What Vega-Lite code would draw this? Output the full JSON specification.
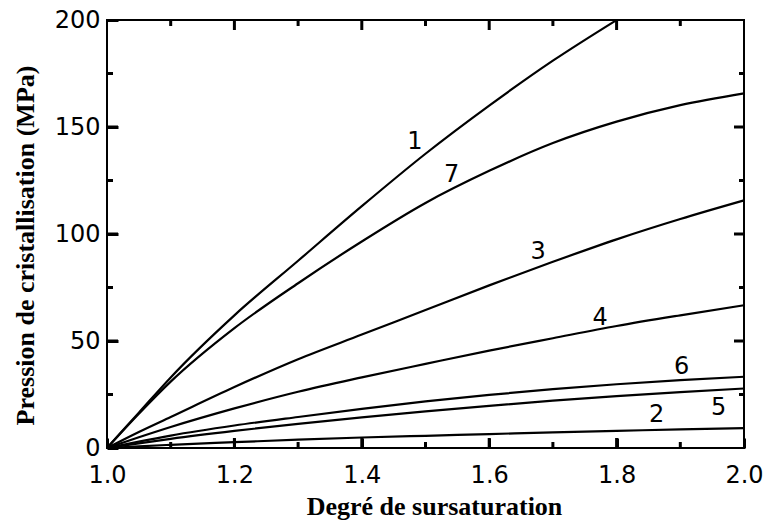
{
  "$schema": "https://vega.github.io/schema/vega-lite/v6.json",
  "width": 637,
  "height": 428,
  "autosize": "none",
  "padding": {"left": 107, "top": 20, "right": 21, "bottom": 75},
  "background": "white",
  "config": {"view": {"stroke": "black", "strokeWidth": 2}, "axis": {"gridOpacity": 0}},
  "datasets": {
    "labels": [
      {"label": "1", "S": 1.4835, "P": 143.1},
      {"label": "7", "S": 1.541, "P": 127.6},
      {"label": "3", "S": 1.677, "P": 91.7},
      {"label": "4", "S": 1.774, "P": 60.6},
      {"label": "6", "S": 1.902, "P": 38},
      {"label": "2", "S": 1.863, "P": 15.4},
      {"label": "5", "S": 1.96, "P": 18.5}
    ],
    "xticks": [
      {"v": 1.1, "kind": "minor"}, {"v": 1.2, "kind": "major"}, {"v": 1.3, "kind": "minor"}, {"v": 1.4, "kind": "major"}, {"v": 1.5, "kind": "minor"}, {"v": 1.6, "kind": "major"}, {"v": 1.7, "kind": "minor"}, {"v": 1.8, "kind": "major"}, {"v": 1.9, "kind": "minor"}
    ],
    "yticks": [
      {"v": 25, "kind": "minor"}, {"v": 50, "kind": "major"}, {"v": 75, "kind": "minor"}, {"v": 100, "kind": "major"}, {"v": 125, "kind": "minor"}, {"v": 150, "kind": "major"}, {"v": 175, "kind": "minor"}
    ]
  },
  "layer": [
    {
      "data": {"values": [
        {"curve": "1", "S": 1.0, "P": 0}, {"curve": "1", "S": 1.05, "P": 16.5}, {"curve": "1", "S": 1.1, "P": 33}, {"curve": "1", "S": 1.2, "P": 62}, {"curve": "1", "S": 1.3, "P": 87.5}, {"curve": "1", "S": 1.4, "P": 113}, {"curve": "1", "S": 1.5, "P": 137.5}, {"curve": "1", "S": 1.6, "P": 160}, {"curve": "1", "S": 1.7, "P": 181}, {"curve": "1", "S": 1.8, "P": 200},
        {"curve": "7", "S": 1.0, "P": 0}, {"curve": "7", "S": 1.05, "P": 16}, {"curve": "7", "S": 1.1, "P": 31}, {"curve": "7", "S": 1.2, "P": 56}, {"curve": "7", "S": 1.3, "P": 77}, {"curve": "7", "S": 1.4, "P": 96.5}, {"curve": "7", "S": 1.5, "P": 114.5}, {"curve": "7", "S": 1.6, "P": 129.5}, {"curve": "7", "S": 1.7, "P": 142.5}, {"curve": "7", "S": 1.8, "P": 152.5}, {"curve": "7", "S": 1.9, "P": 160.2}, {"curve": "7", "S": 2.0, "P": 165.7},
        {"curve": "3", "S": 1.0, "P": 0}, {"curve": "3", "S": 1.05, "P": 7.5}, {"curve": "3", "S": 1.1, "P": 14.5}, {"curve": "3", "S": 1.2, "P": 28.5}, {"curve": "3", "S": 1.3, "P": 41.5}, {"curve": "3", "S": 1.4, "P": 53}, {"curve": "3", "S": 1.5, "P": 64.5}, {"curve": "3", "S": 1.6, "P": 76}, {"curve": "3", "S": 1.7, "P": 87}, {"curve": "3", "S": 1.8, "P": 97.5}, {"curve": "3", "S": 1.9, "P": 107}, {"curve": "3", "S": 2.0, "P": 115.7},
        {"curve": "4", "S": 1.0, "P": 0}, {"curve": "4", "S": 1.05, "P": 5}, {"curve": "4", "S": 1.1, "P": 9.8}, {"curve": "4", "S": 1.2, "P": 18.5}, {"curve": "4", "S": 1.3, "P": 26.3}, {"curve": "4", "S": 1.4, "P": 33}, {"curve": "4", "S": 1.5, "P": 39.3}, {"curve": "4", "S": 1.6, "P": 45.5}, {"curve": "4", "S": 1.7, "P": 51.3}, {"curve": "4", "S": 1.8, "P": 57}, {"curve": "4", "S": 1.9, "P": 62}, {"curve": "4", "S": 2.0, "P": 66.7},
        {"curve": "6", "S": 1.0, "P": 0}, {"curve": "6", "S": 1.05, "P": 3}, {"curve": "6", "S": 1.1, "P": 5.8}, {"curve": "6", "S": 1.2, "P": 10.5}, {"curve": "6", "S": 1.3, "P": 14.5}, {"curve": "6", "S": 1.4, "P": 18.3}, {"curve": "6", "S": 1.5, "P": 21.8}, {"curve": "6", "S": 1.6, "P": 24.8}, {"curve": "6", "S": 1.7, "P": 27.5}, {"curve": "6", "S": 1.8, "P": 29.8}, {"curve": "6", "S": 1.9, "P": 31.7}, {"curve": "6", "S": 2.0, "P": 33.3},
        {"curve": "5", "S": 1.0, "P": 0}, {"curve": "5", "S": 1.05, "P": 2.2}, {"curve": "5", "S": 1.1, "P": 4.3}, {"curve": "5", "S": 1.2, "P": 8}, {"curve": "5", "S": 1.3, "P": 11.3}, {"curve": "5", "S": 1.4, "P": 14.3}, {"curve": "5", "S": 1.5, "P": 17.1}, {"curve": "5", "S": 1.6, "P": 19.7}, {"curve": "5", "S": 1.7, "P": 22.1}, {"curve": "5", "S": 1.8, "P": 24.2}, {"curve": "5", "S": 1.9, "P": 26.1}, {"curve": "5", "S": 2.0, "P": 27.8},
        {"curve": "2", "S": 1.0, "P": 0}, {"curve": "2", "S": 1.05, "P": 0.8}, {"curve": "2", "S": 1.1, "P": 1.5}, {"curve": "2", "S": 1.2, "P": 2.7}, {"curve": "2", "S": 1.3, "P": 3.9}, {"curve": "2", "S": 1.4, "P": 4.9}, {"curve": "2", "S": 1.5, "P": 5.7}, {"curve": "2", "S": 1.6, "P": 6.5}, {"curve": "2", "S": 1.7, "P": 7.3}, {"curve": "2", "S": 1.8, "P": 8}, {"curve": "2", "S": 1.9, "P": 8.7}, {"curve": "2", "S": 2.0, "P": 9.3}
      ]},
      "mark": {"type": "line", "color": "black", "strokeWidth": 2.2, "interpolate": "monotone"},
      "encoding": {
        "x": {
          "field": "S", "type": "quantitative",
          "scale": {"domain": [1, 2], "nice": false, "zero": false},
          "axis": {
            "orient": "bottom", "offset": -10, "domain": false,
            "values": [1, 1.2, 1.4, 1.6, 1.8, 2],
            "format": ".1f",
            "tickSize": 10, "tickColor": "#000000", "tickWidth": 3,
            "labelPadding": 15.5,
            "labelFont": "DejaVu Sans", "labelFontSize": 24, "labelColor": "black",
            "labelFlush": false, "labelOverlap": false,
            "title": "Degré de sursaturation",
            "titleFont": "Liberation Serif", "titleFontWeight": "bold", "titleFontSize": 26, "titleColor": "black",
            "titleX": 327, "titleY": 76, "titleBaseline": "alphabetic", "titleAlign": "center"
          }
        },
        "y": {
          "field": "P", "type": "quantitative",
          "scale": {"domain": [0, 200], "nice": false},
          "axis": {
            "orient": "left", "offset": -11, "domain": false,
            "values": [0, 50, 100, 150, 200],
            "format": "d",
            "tickSize": 11, "tickColor": "#000000", "tickWidth": 3,
            "labelPadding": 7,
            "labelFont": "DejaVu Sans", "labelFontSize": 24, "labelColor": "black",
            "labelFlush": false, "labelOverlap": false,
            "title": "Pression de cristallisation (MPa)",
            "titleFont": "Liberation Serif", "titleFontWeight": "bold", "titleFontSize": 26, "titleColor": "black",
            "titleX": -85, "titleY": 225, "titleAngle": -90, "titleBaseline": "alphabetic", "titleAlign": "center"
          }
        },
        "detail": {"field": "curve", "type": "nominal"}
      }
    },
    {
      "data": {"name": "labels"},
      "mark": {"type": "text", "font": "DejaVu Sans", "fontSize": 24, "color": "black", "align": "center", "baseline": "middle"},
      "encoding": {
        "x": {"field": "S", "type": "quantitative", "axis": null},
        "y": {"field": "P", "type": "quantitative", "axis": null},
        "text": {"field": "label", "type": "nominal"}
      }
    },
    {
      "data": {"name": "xticks"},
      "transform": [{"filter": "datum.kind == 'major'"}],
      "mark": {"type": "tick", "orient": "vertical", "color": "#000000", "filled": true, "opacity": 1, "size": 10, "thickness": 3, "yOffset": -5},
      "encoding": {
        "x": {"field": "v", "type": "quantitative", "axis": null},
        "y": {"datum": 0, "type": "quantitative", "axis": null}
      }
    },
    {
      "data": {"name": "xticks"},
      "transform": [{"filter": "datum.kind == 'minor'"}],
      "mark": {"type": "tick", "orient": "vertical", "color": "#000000", "filled": true, "opacity": 1, "size": 6, "thickness": 3, "yOffset": -3},
      "encoding": {
        "x": {"field": "v", "type": "quantitative", "axis": null},
        "y": {"datum": 0, "type": "quantitative", "axis": null}
      }
    },
    {
      "data": {"name": "xticks"},
      "transform": [{"filter": "datum.kind == 'major'"}],
      "mark": {"type": "tick", "orient": "vertical", "color": "#000000", "filled": true, "opacity": 1, "size": 10, "thickness": 3, "yOffset": 5},
      "encoding": {
        "x": {"field": "v", "type": "quantitative", "axis": null},
        "y": {"datum": 200, "type": "quantitative", "axis": null}
      }
    },
    {
      "data": {"name": "xticks"},
      "transform": [{"filter": "datum.kind == 'minor'"}],
      "mark": {"type": "tick", "orient": "vertical", "color": "#000000", "filled": true, "opacity": 1, "size": 6, "thickness": 3, "yOffset": 3},
      "encoding": {
        "x": {"field": "v", "type": "quantitative", "axis": null},
        "y": {"datum": 200, "type": "quantitative", "axis": null}
      }
    },
    {
      "data": {"name": "yticks"},
      "transform": [{"filter": "datum.kind == 'major'"}],
      "mark": {"type": "tick", "orient": "horizontal", "color": "#000000", "filled": true, "opacity": 1, "size": 11, "thickness": 3, "xOffset": 5.5},
      "encoding": {
        "y": {"field": "v", "type": "quantitative", "axis": null},
        "x": {"datum": 1, "type": "quantitative", "axis": null}
      }
    },
    {
      "data": {"name": "yticks"},
      "transform": [{"filter": "datum.kind == 'minor'"}],
      "mark": {"type": "tick", "orient": "horizontal", "color": "#000000", "filled": true, "opacity": 1, "size": 6, "thickness": 3, "xOffset": 3},
      "encoding": {
        "y": {"field": "v", "type": "quantitative", "axis": null},
        "x": {"datum": 1, "type": "quantitative", "axis": null}
      }
    },
    {
      "data": {"name": "yticks"},
      "transform": [{"filter": "datum.kind == 'major'"}],
      "mark": {"type": "tick", "orient": "horizontal", "color": "#000000", "filled": true, "opacity": 1, "size": 10, "thickness": 3, "xOffset": -5},
      "encoding": {
        "y": {"field": "v", "type": "quantitative", "axis": null},
        "x": {"datum": 2, "type": "quantitative", "axis": null}
      }
    },
    {
      "data": {"name": "yticks"},
      "transform": [{"filter": "datum.kind == 'minor'"}],
      "mark": {"type": "tick", "orient": "horizontal", "color": "#000000", "filled": true, "opacity": 1, "size": 5, "thickness": 3, "xOffset": -2.5},
      "encoding": {
        "y": {"field": "v", "type": "quantitative", "axis": null},
        "x": {"datum": 2, "type": "quantitative", "axis": null}
      }
    }
  ],
  "resolve": {"axis": {"x": "independent", "y": "independent"}}
}
